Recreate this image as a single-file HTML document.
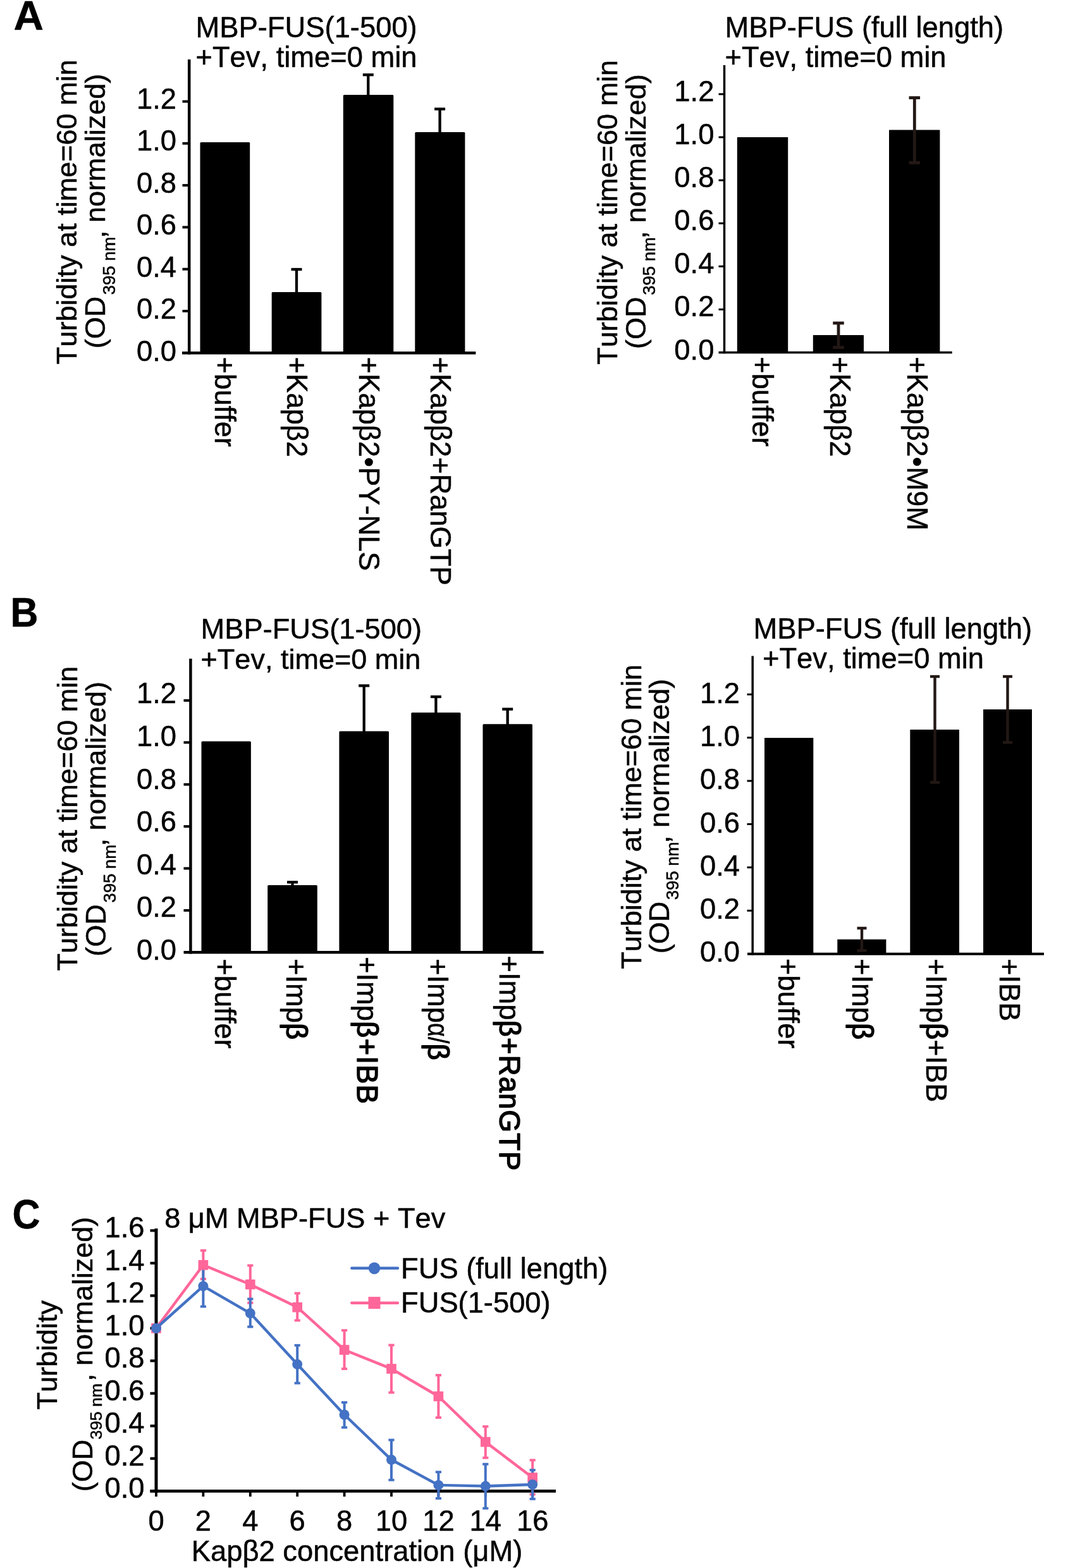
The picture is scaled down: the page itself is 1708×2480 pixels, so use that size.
<!DOCTYPE html>
<html lang="en">
<head>
<meta charset="utf-8">
<title>Figure</title>
<style>
html,body{margin:0;padding:0;background:#fff;}
body{width:1708px;height:2480px;}
svg{display:block;}
text{font-family:"Liberation Sans", "DejaVu Sans", sans-serif;fill:#000;font-kerning:none;font-variant-ligatures:none;stroke:#000;stroke-width:0.5px;stroke-linejoin:round;}
</style>
</head>
<body>
<svg width="1708" height="2480" viewBox="0 0 1708 2480">
<rect x="0" y="0" width="1708" height="2480" fill="#fff"/>
<text x="21.5" y="46.5" font-size="64" font-weight="bold" textLength="47.5" lengthAdjust="spacingAndGlyphs">A</text>
<text x="16.5" y="991" font-size="64" font-weight="bold" textLength="44" lengthAdjust="spacingAndGlyphs">B</text>
<text x="309.5" y="59.3" font-size="45.35">MBP-FUS(1-500)</text>
<text x="309.5" y="105.6" font-size="45.3">+Tev, time=0 min</text>
<text transform="translate(121.2 335.2) rotate(-90)" font-size="45.05" text-anchor="middle">Turbidity at time=60 min</text>
<text transform="translate(166.2 334) rotate(-90)" font-size="45.05" text-anchor="middle">(OD<tspan font-size="27.5" dx="2.5" dy="15.3">395 nm</tspan><tspan dx="-2.5" dy="-15.3">, normalized)</tspan></text>
<rect x="316.5" y="225" width="78.7" height="333.3" fill="#000" rx="1.5"/>
<rect x="429.7" y="462" width="78.7" height="96.3" fill="#000" rx="1.5"/>
<rect x="542.8" y="150" width="79.5" height="408.3" fill="#000" rx="1.5"/>
<rect x="656.3" y="209" width="79.1" height="349.3" fill="#000" rx="1.5"/>
<line x1="299.2" y1="94" x2="299.2" y2="560.5" stroke="#000" stroke-width="4.5" stroke-linecap="butt"/>
<line x1="288" y1="558.3" x2="752.4" y2="558.3" stroke="#000" stroke-width="4.4" stroke-linecap="butt"/>
<text x="279" y="570.8" font-size="45.35" text-anchor="end">0.0</text>
<line x1="288.5" y1="492.0" x2="299.2" y2="492.0" stroke="#000" stroke-width="4" stroke-linecap="butt"/>
<text x="279" y="504.3" font-size="45.35" text-anchor="end">0.2</text>
<line x1="288.5" y1="425.7" x2="299.2" y2="425.7" stroke="#000" stroke-width="4" stroke-linecap="butt"/>
<text x="279" y="437.8" font-size="45.35" text-anchor="end">0.4</text>
<line x1="288.5" y1="359.4" x2="299.2" y2="359.4" stroke="#000" stroke-width="4" stroke-linecap="butt"/>
<text x="279" y="371.3" font-size="45.35" text-anchor="end">0.6</text>
<line x1="288.5" y1="293.1" x2="299.2" y2="293.1" stroke="#000" stroke-width="4" stroke-linecap="butt"/>
<text x="279" y="304.8" font-size="45.35" text-anchor="end">0.8</text>
<line x1="288.5" y1="226.8" x2="299.2" y2="226.8" stroke="#000" stroke-width="4" stroke-linecap="butt"/>
<text x="279" y="238.3" font-size="45.35" text-anchor="end">1.0</text>
<line x1="288.5" y1="160.5" x2="299.2" y2="160.5" stroke="#000" stroke-width="4" stroke-linecap="butt"/>
<text x="279" y="171.8" font-size="45.35" text-anchor="end">1.2</text>
<line x1="469" y1="426" x2="469" y2="463" stroke="#000" stroke-width="4.3" stroke-linecap="butt"/>
<line x1="460.5" y1="426" x2="477.5" y2="426" stroke="#000" stroke-width="4.3" stroke-linecap="butt"/>
<line x1="582.3" y1="118.3" x2="582.3" y2="150" stroke="#000" stroke-width="4.3" stroke-linecap="butt"/>
<line x1="573.8" y1="118.3" x2="590.8" y2="118.3" stroke="#000" stroke-width="4.3" stroke-linecap="butt"/>
<line x1="695.6" y1="172.4" x2="695.6" y2="209" stroke="#000" stroke-width="4.3" stroke-linecap="butt"/>
<line x1="687.1" y1="172.4" x2="704.1" y2="172.4" stroke="#000" stroke-width="4.3" stroke-linecap="butt"/>
<text transform="translate(339.5 564.5) rotate(90)" font-size="45.35">+buffer</text>
<text transform="translate(453.9 564.5) rotate(90)" font-size="45.35">+Kapβ2</text>
<text transform="translate(567.6 564.5) rotate(90)" font-size="45.35">+Kapβ2•PY-NLS</text>
<text transform="translate(681 564.5) rotate(90)" font-size="45.35">+Kapβ2+RanGTP</text>
<text x="1146.5" y="59.3" font-size="45.3">MBP-FUS (full length)</text>
<text x="1146.5" y="105.6" font-size="45.3">+Tev, time=0 min</text>
<text transform="translate(976.4 335.8) rotate(-90)" font-size="45.05" text-anchor="middle">Turbidity at time=60 min</text>
<text transform="translate(1020.8 334.6) rotate(-90)" font-size="45.05" text-anchor="middle">(OD<tspan font-size="27.5" dx="2.5" dy="15.3">395 nm</tspan><tspan dx="-2.5" dy="-15.3">, normalized)</tspan></text>
<rect x="1165.8" y="217" width="80.4" height="340.5" fill="#000" rx="0.5"/>
<rect x="1285.8" y="530" width="80.2" height="27.5" fill="#000" rx="0.5"/>
<rect x="1406" y="205.5" width="80.4" height="352.0" fill="#000" rx="0.5"/>
<line x1="1145.5" y1="103" x2="1145.5" y2="559.25" stroke="#000" stroke-width="3.5" stroke-linecap="butt"/>
<line x1="1136.5" y1="557.5" x2="1505.7" y2="557.5" stroke="#000" stroke-width="3.5" stroke-linecap="butt"/>
<text x="1129.4" y="568.5" font-size="45.35" text-anchor="end">0.0</text>
<line x1="1136.5" y1="489.4" x2="1145.5" y2="489.4" stroke="#000" stroke-width="3" stroke-linecap="butt"/>
<text x="1129.4" y="500.4" font-size="45.35" text-anchor="end">0.2</text>
<line x1="1136.5" y1="421.3" x2="1145.5" y2="421.3" stroke="#000" stroke-width="3" stroke-linecap="butt"/>
<text x="1129.4" y="432.3" font-size="45.35" text-anchor="end">0.4</text>
<line x1="1136.5" y1="353.2" x2="1145.5" y2="353.2" stroke="#000" stroke-width="3" stroke-linecap="butt"/>
<text x="1129.4" y="364.2" font-size="45.35" text-anchor="end">0.6</text>
<line x1="1136.5" y1="285.1" x2="1145.5" y2="285.1" stroke="#000" stroke-width="3" stroke-linecap="butt"/>
<text x="1129.4" y="296.1" font-size="45.35" text-anchor="end">0.8</text>
<line x1="1136.5" y1="217.0" x2="1145.5" y2="217.0" stroke="#000" stroke-width="3" stroke-linecap="butt"/>
<text x="1129.4" y="228.0" font-size="45.35" text-anchor="end">1.0</text>
<line x1="1136.5" y1="148.9" x2="1145.5" y2="148.9" stroke="#000" stroke-width="3" stroke-linecap="butt"/>
<text x="1129.4" y="159.9" font-size="45.35" text-anchor="end">1.2</text>
<line x1="1326" y1="511" x2="1326" y2="549.5" stroke="#231815" stroke-width="4.8" stroke-linecap="butt"/>
<line x1="1317.25" y1="511" x2="1334.75" y2="511" stroke="#231815" stroke-width="4.8" stroke-linecap="butt"/>
<line x1="1317.25" y1="549.5" x2="1334.75" y2="549.5" stroke="#231815" stroke-width="4.8" stroke-linecap="butt"/>
<line x1="1446.3" y1="154.6" x2="1446.3" y2="257.4" stroke="#231815" stroke-width="4.8" stroke-linecap="butt"/>
<line x1="1437.55" y1="154.6" x2="1455.05" y2="154.6" stroke="#231815" stroke-width="4.8" stroke-linecap="butt"/>
<line x1="1437.55" y1="257.4" x2="1455.05" y2="257.4" stroke="#231815" stroke-width="4.8" stroke-linecap="butt"/>
<text transform="translate(1189.5 564) rotate(90)" font-size="45.35">+buffer</text>
<text transform="translate(1313.2 564) rotate(90)" font-size="45.35">+Kapβ2</text>
<text transform="translate(1434.7 564) rotate(90)" font-size="45.35">+Kapβ2•M9M</text>
<text x="317.6" y="1009.8" font-size="45.25">MBP-FUS(1-500)</text>
<text x="317.6" y="1057.6" font-size="45.0">+Tev, time=0 min</text>
<text transform="translate(121.8 1294.6) rotate(-90)" font-size="45.05" text-anchor="middle">Turbidity at time=60 min</text>
<text transform="translate(167.2 1295.4) rotate(-90)" font-size="45.05" text-anchor="middle">(OD<tspan font-size="27.5" dx="2.5" dy="15.3">395 nm</tspan><tspan dx="-2.5" dy="-15.3">, normalized)</tspan></text>
<rect x="318.5" y="1172.6" width="78.4" height="333.7" fill="#000" rx="1.5"/>
<rect x="423.2" y="1399.9" width="78.6" height="106.4" fill="#000" rx="1.5"/>
<rect x="536.4" y="1156.4" width="78.6" height="349.9" fill="#000" rx="1.5"/>
<rect x="650.3" y="1127.1" width="78.2" height="379.2" fill="#000" rx="1.5"/>
<rect x="763.5" y="1145.3" width="78.5" height="361.0" fill="#000" rx="1.5"/>
<line x1="301.4" y1="1041.7" x2="301.4" y2="1508.5" stroke="#000" stroke-width="4.5" stroke-linecap="butt"/>
<line x1="290.5" y1="1506.3" x2="859.7" y2="1506.3" stroke="#000" stroke-width="4.4" stroke-linecap="butt"/>
<text x="279" y="1518.0" font-size="45.35" text-anchor="end">0.0</text>
<line x1="290.5" y1="1439.9" x2="301.4" y2="1439.9" stroke="#000" stroke-width="4" stroke-linecap="butt"/>
<text x="279" y="1450.4" font-size="45.35" text-anchor="end">0.2</text>
<line x1="290.5" y1="1373.5" x2="301.4" y2="1373.5" stroke="#000" stroke-width="4" stroke-linecap="butt"/>
<text x="279" y="1382.8" font-size="45.35" text-anchor="end">0.4</text>
<line x1="290.5" y1="1307.1" x2="301.4" y2="1307.1" stroke="#000" stroke-width="4" stroke-linecap="butt"/>
<text x="279" y="1315.2" font-size="45.35" text-anchor="end">0.6</text>
<line x1="290.5" y1="1240.7" x2="301.4" y2="1240.7" stroke="#000" stroke-width="4" stroke-linecap="butt"/>
<text x="279" y="1247.6" font-size="45.35" text-anchor="end">0.8</text>
<line x1="290.5" y1="1174.3" x2="301.4" y2="1174.3" stroke="#000" stroke-width="4" stroke-linecap="butt"/>
<text x="279" y="1180.0" font-size="45.35" text-anchor="end">1.0</text>
<line x1="290.5" y1="1107.9" x2="301.4" y2="1107.9" stroke="#000" stroke-width="4" stroke-linecap="butt"/>
<text x="279" y="1112.4" font-size="45.35" text-anchor="end">1.2</text>
<line x1="462.5" y1="1395.3" x2="462.5" y2="1400.7" stroke="#000" stroke-width="4.3" stroke-linecap="butt"/>
<line x1="454.0" y1="1395.3" x2="471.0" y2="1395.3" stroke="#000" stroke-width="4.3" stroke-linecap="butt"/>
<line x1="575.7" y1="1084.5" x2="575.7" y2="1157.2" stroke="#000" stroke-width="4.3" stroke-linecap="butt"/>
<line x1="567.2" y1="1084.5" x2="584.2" y2="1084.5" stroke="#000" stroke-width="4.3" stroke-linecap="butt"/>
<line x1="689.4" y1="1102" x2="689.4" y2="1127.8" stroke="#000" stroke-width="4.3" stroke-linecap="butt"/>
<line x1="680.9" y1="1102" x2="697.9" y2="1102" stroke="#000" stroke-width="4.3" stroke-linecap="butt"/>
<line x1="802.7" y1="1121.6" x2="802.7" y2="1146" stroke="#000" stroke-width="4.3" stroke-linecap="butt"/>
<line x1="794.2" y1="1121.6" x2="811.2" y2="1121.6" stroke="#000" stroke-width="4.3" stroke-linecap="butt"/>
<text transform="translate(340 1516.2) rotate(90)" font-size="45.35">+buffer</text>
<text transform="translate(453.3 1516) rotate(90)" font-size="45.35">+Imp<tspan stroke-width="1.5" letter-spacing="1.25">β</tspan></text>
<text transform="translate(564.6 1513) rotate(90)" font-size="45.35">+Imp<tspan stroke-width="1.5" letter-spacing="1.25">β+IBB</tspan></text>
<text transform="translate(676.6 1516) rotate(90)" font-size="45.35">+Imp<tspan textLength="32.3" lengthAdjust="spacingAndGlyphs">α/</tspan><tspan stroke-width="1.5" letter-spacing="1.25">β</tspan></text>
<text transform="translate(789.5 1511.5) rotate(90)" font-size="45.35">+Imp<tspan stroke-width="1.5" letter-spacing="1.25">β+RanGTP</tspan></text>
<text x="1191.5" y="1009.7" font-size="45.3">MBP-FUS (full length)</text>
<text x="1206" y="1057.2" font-size="45.3">+Tev, time=0 min</text>
<text transform="translate(1013.6 1291.9) rotate(-90)" font-size="45.05" text-anchor="middle">Turbidity at time=60 min</text>
<text transform="translate(1058 1291) rotate(-90)" font-size="45.05" text-anchor="middle">(OD<tspan font-size="27.5" dx="2.5" dy="15.3">395 nm</tspan><tspan dx="-2.5" dy="-15.3">, normalized)</tspan></text>
<rect x="1209" y="1166.9" width="77.3" height="341.8" fill="#000" rx="0.5"/>
<rect x="1324.3" y="1485.7" width="77.1" height="23.0" fill="#000" rx="0.5"/>
<rect x="1439.3" y="1154" width="77.7" height="354.7" fill="#000" rx="0.5"/>
<rect x="1555" y="1121.9" width="77" height="386.8" fill="#000" rx="0.5"/>
<line x1="1190.2" y1="1037.4" x2="1190.2" y2="1510.7" stroke="#000" stroke-width="3.5" stroke-linecap="butt"/>
<line x1="1182" y1="1508.7" x2="1651" y2="1508.7" stroke="#000" stroke-width="4" stroke-linecap="butt"/>
<text x="1170" y="1521.2" font-size="45.35" text-anchor="end">0.0</text>
<line x1="1181.5" y1="1440.3" x2="1190.2" y2="1440.3" stroke="#000" stroke-width="3" stroke-linecap="butt"/>
<text x="1170" y="1453.0" font-size="45.35" text-anchor="end">0.2</text>
<line x1="1181.5" y1="1371.9" x2="1190.2" y2="1371.9" stroke="#000" stroke-width="3" stroke-linecap="butt"/>
<text x="1170" y="1384.8" font-size="45.35" text-anchor="end">0.4</text>
<line x1="1181.5" y1="1303.5" x2="1190.2" y2="1303.5" stroke="#000" stroke-width="3" stroke-linecap="butt"/>
<text x="1170" y="1316.6" font-size="45.35" text-anchor="end">0.6</text>
<line x1="1181.5" y1="1235.1" x2="1190.2" y2="1235.1" stroke="#000" stroke-width="3" stroke-linecap="butt"/>
<text x="1170" y="1248.4" font-size="45.35" text-anchor="end">0.8</text>
<line x1="1181.5" y1="1166.7" x2="1190.2" y2="1166.7" stroke="#000" stroke-width="3" stroke-linecap="butt"/>
<text x="1170" y="1180.2" font-size="45.35" text-anchor="end">1.0</text>
<line x1="1181.5" y1="1098.3" x2="1190.2" y2="1098.3" stroke="#000" stroke-width="3" stroke-linecap="butt"/>
<text x="1170" y="1112.0" font-size="45.35" text-anchor="end">1.2</text>
<line x1="1363" y1="1468" x2="1363" y2="1503.4" stroke="#231815" stroke-width="4.4" stroke-linecap="butt"/>
<line x1="1355.5" y1="1468" x2="1370.5" y2="1468" stroke="#231815" stroke-width="4.4" stroke-linecap="butt"/>
<line x1="1355.5" y1="1503.4" x2="1370.5" y2="1503.4" stroke="#231815" stroke-width="4.4" stroke-linecap="butt"/>
<line x1="1478.5" y1="1070" x2="1478.5" y2="1237.5" stroke="#231815" stroke-width="4.4" stroke-linecap="butt"/>
<line x1="1471.0" y1="1070" x2="1486.0" y2="1070" stroke="#231815" stroke-width="4.4" stroke-linecap="butt"/>
<line x1="1471.0" y1="1237.5" x2="1486.0" y2="1237.5" stroke="#231815" stroke-width="4.4" stroke-linecap="butt"/>
<line x1="1593.5" y1="1070" x2="1593.5" y2="1174.3" stroke="#231815" stroke-width="4.4" stroke-linecap="butt"/>
<line x1="1586.0" y1="1070" x2="1601.0" y2="1070" stroke="#231815" stroke-width="4.4" stroke-linecap="butt"/>
<line x1="1586.0" y1="1174.3" x2="1601.0" y2="1174.3" stroke="#231815" stroke-width="4.4" stroke-linecap="butt"/>
<text transform="translate(1231 1515.8) rotate(90)" font-size="45.35">+buffer</text>
<text transform="translate(1348 1516) rotate(90)" font-size="45.35">+Imp<tspan stroke-width="1.5" letter-spacing="1.25">β</tspan></text>
<text transform="translate(1464.5 1516) rotate(90)" font-size="45.3">+Imp<tspan stroke-width="1.5">β</tspan>+IBB</text>
<text transform="translate(1580.5 1516) rotate(90)" font-size="45.3">+IBB</text>
<text x="19.5" y="1942.7" font-size="64" font-weight="bold" textLength="44" lengthAdjust="spacingAndGlyphs">C</text>
<text x="260.2" y="1942.2" font-size="45.2">8 μM MBP-FUS + Tev</text>
<line x1="247.0" y1="1943.1" x2="247.0" y2="2360.7000000000003" stroke="#000" stroke-width="5" stroke-linecap="butt"/>
<line x1="237.5" y1="2358.3" x2="879" y2="2358.3" stroke="#000" stroke-width="4.8" stroke-linecap="butt"/>
<line x1="237.5" y1="2358.3" x2="247.0" y2="2358.3" stroke="#000" stroke-width="4.2" stroke-linecap="butt"/>
<text x="228.6" y="2369.2" font-size="45.35" text-anchor="end">0.0</text>
<line x1="237.5" y1="2306.8" x2="247.0" y2="2306.8" stroke="#000" stroke-width="4.2" stroke-linecap="butt"/>
<text x="228.6" y="2317.7" font-size="45.35" text-anchor="end">0.2</text>
<line x1="237.5" y1="2255.3" x2="247.0" y2="2255.3" stroke="#000" stroke-width="4.2" stroke-linecap="butt"/>
<text x="228.6" y="2266.2" font-size="45.35" text-anchor="end">0.4</text>
<line x1="237.5" y1="2203.8" x2="247.0" y2="2203.8" stroke="#000" stroke-width="4.2" stroke-linecap="butt"/>
<text x="228.6" y="2214.7" font-size="45.35" text-anchor="end">0.6</text>
<line x1="237.5" y1="2152.3" x2="247.0" y2="2152.3" stroke="#000" stroke-width="4.2" stroke-linecap="butt"/>
<text x="228.6" y="2163.2" font-size="45.35" text-anchor="end">0.8</text>
<line x1="237.5" y1="2100.8" x2="247.0" y2="2100.8" stroke="#000" stroke-width="4.2" stroke-linecap="butt"/>
<text x="228.6" y="2111.7" font-size="45.35" text-anchor="end">1.0</text>
<line x1="237.5" y1="2049.3" x2="247.0" y2="2049.3" stroke="#000" stroke-width="4.2" stroke-linecap="butt"/>
<text x="228.6" y="2060.2" font-size="45.35" text-anchor="end">1.2</text>
<line x1="237.5" y1="1997.8" x2="247.0" y2="1997.8" stroke="#000" stroke-width="4.2" stroke-linecap="butt"/>
<text x="228.6" y="2008.7" font-size="45.35" text-anchor="end">1.4</text>
<line x1="237.5" y1="1946.3" x2="247.0" y2="1946.3" stroke="#000" stroke-width="4.2" stroke-linecap="butt"/>
<text x="228.6" y="1957.2" font-size="45.35" text-anchor="end">1.6</text>
<line x1="247.0" y1="2358.3" x2="247.0" y2="2367.1000000000004" stroke="#000" stroke-width="3.8" stroke-linecap="butt"/>
<text x="247.0" y="2421.2" font-size="45.35" text-anchor="middle">0</text>
<line x1="321.4" y1="2358.3" x2="321.4" y2="2367.1000000000004" stroke="#000" stroke-width="3.8" stroke-linecap="butt"/>
<text x="321.4" y="2421.2" font-size="45.35" text-anchor="middle">2</text>
<line x1="395.8" y1="2358.3" x2="395.8" y2="2367.1000000000004" stroke="#000" stroke-width="3.8" stroke-linecap="butt"/>
<text x="395.8" y="2421.2" font-size="45.35" text-anchor="middle">4</text>
<line x1="470.2" y1="2358.3" x2="470.2" y2="2367.1000000000004" stroke="#000" stroke-width="3.8" stroke-linecap="butt"/>
<text x="470.2" y="2421.2" font-size="45.35" text-anchor="middle">6</text>
<line x1="544.6" y1="2358.3" x2="544.6" y2="2367.1000000000004" stroke="#000" stroke-width="3.8" stroke-linecap="butt"/>
<text x="544.6" y="2421.2" font-size="45.35" text-anchor="middle">8</text>
<line x1="619.0" y1="2358.3" x2="619.0" y2="2367.1000000000004" stroke="#000" stroke-width="3.8" stroke-linecap="butt"/>
<text x="619.0" y="2421.2" font-size="45.35" text-anchor="middle">10</text>
<line x1="693.4" y1="2358.3" x2="693.4" y2="2367.1000000000004" stroke="#000" stroke-width="3.8" stroke-linecap="butt"/>
<text x="693.4" y="2421.2" font-size="45.35" text-anchor="middle">12</text>
<line x1="767.8" y1="2358.3" x2="767.8" y2="2367.1000000000004" stroke="#000" stroke-width="3.8" stroke-linecap="butt"/>
<text x="767.8" y="2421.2" font-size="45.35" text-anchor="middle">14</text>
<line x1="842.2" y1="2358.3" x2="842.2" y2="2367.1000000000004" stroke="#000" stroke-width="3.8" stroke-linecap="butt"/>
<text x="842.2" y="2421.2" font-size="45.35" text-anchor="middle">16</text>
<text x="564.5" y="2468.8" font-size="45.35" text-anchor="middle">Kapβ2 concentration (μM)</text>
<text transform="translate(89.9 2143.2) rotate(-90)" font-size="45.05" text-anchor="middle">Turbidity</text>
<text transform="translate(145.8 2142.0) rotate(-90)" font-size="45.05" text-anchor="middle">(OD<tspan font-size="26.6" dx="0" dy="15.3">395 nm</tspan><tspan dx="3" dy="-15.3">, normalized)</tspan></text>
<line x1="321.4" y1="1977.8" x2="321.4" y2="2022.9" stroke="#FF6699" stroke-width="4" stroke-linecap="butt"/>
<line x1="316.79999999999995" y1="1977.8" x2="326.0" y2="1977.8" stroke="#FF6699" stroke-width="3.9" stroke-linecap="butt"/>
<line x1="316.79999999999995" y1="2022.9" x2="326.0" y2="2022.9" stroke="#FF6699" stroke-width="3.9" stroke-linecap="butt"/>
<line x1="395.8" y1="2001.5" x2="395.8" y2="2060.6" stroke="#FF6699" stroke-width="4" stroke-linecap="butt"/>
<line x1="391.2" y1="2001.5" x2="400.40000000000003" y2="2001.5" stroke="#FF6699" stroke-width="3.9" stroke-linecap="butt"/>
<line x1="391.2" y1="2060.6" x2="400.40000000000003" y2="2060.6" stroke="#FF6699" stroke-width="3.9" stroke-linecap="butt"/>
<line x1="470.2" y1="2045.5" x2="470.2" y2="2088.4" stroke="#FF6699" stroke-width="4" stroke-linecap="butt"/>
<line x1="465.59999999999997" y1="2045.5" x2="474.8" y2="2045.5" stroke="#FF6699" stroke-width="3.9" stroke-linecap="butt"/>
<line x1="465.59999999999997" y1="2088.4" x2="474.8" y2="2088.4" stroke="#FF6699" stroke-width="3.9" stroke-linecap="butt"/>
<line x1="544.6" y1="2104.1" x2="544.6" y2="2165.0" stroke="#FF6699" stroke-width="4" stroke-linecap="butt"/>
<line x1="540.0" y1="2104.1" x2="549.2" y2="2104.1" stroke="#FF6699" stroke-width="3.9" stroke-linecap="butt"/>
<line x1="540.0" y1="2165.0" x2="549.2" y2="2165.0" stroke="#FF6699" stroke-width="3.9" stroke-linecap="butt"/>
<line x1="619.0" y1="2127.5" x2="619.0" y2="2202.5" stroke="#FF6699" stroke-width="4" stroke-linecap="butt"/>
<line x1="614.4" y1="2127.5" x2="623.6" y2="2127.5" stroke="#FF6699" stroke-width="3.9" stroke-linecap="butt"/>
<line x1="614.4" y1="2202.5" x2="623.6" y2="2202.5" stroke="#FF6699" stroke-width="3.9" stroke-linecap="butt"/>
<line x1="693.4" y1="2175.0" x2="693.4" y2="2242.1" stroke="#FF6699" stroke-width="4" stroke-linecap="butt"/>
<line x1="688.8" y1="2175.0" x2="698.0" y2="2175.0" stroke="#FF6699" stroke-width="3.9" stroke-linecap="butt"/>
<line x1="688.8" y1="2242.1" x2="698.0" y2="2242.1" stroke="#FF6699" stroke-width="3.9" stroke-linecap="butt"/>
<line x1="767.8" y1="2256.2" x2="767.8" y2="2305.7" stroke="#FF6699" stroke-width="4" stroke-linecap="butt"/>
<line x1="763.1999999999999" y1="2256.2" x2="772.4" y2="2256.2" stroke="#FF6699" stroke-width="3.9" stroke-linecap="butt"/>
<line x1="763.1999999999999" y1="2305.7" x2="772.4" y2="2305.7" stroke="#FF6699" stroke-width="3.9" stroke-linecap="butt"/>
<line x1="842.2" y1="2309.4" x2="842.2" y2="2363.6" stroke="#FF6699" stroke-width="4" stroke-linecap="butt"/>
<line x1="837.6" y1="2309.4" x2="846.8000000000001" y2="2309.4" stroke="#FF6699" stroke-width="3.9" stroke-linecap="butt"/>
<line x1="837.6" y1="2363.6" x2="846.8000000000001" y2="2363.6" stroke="#FF6699" stroke-width="3.9" stroke-linecap="butt"/>
<line x1="321.4" y1="2001.9" x2="321.4" y2="2066.5" stroke="#4472C4" stroke-width="4" stroke-linecap="butt"/>
<line x1="316.79999999999995" y1="2001.9" x2="326.0" y2="2001.9" stroke="#4472C4" stroke-width="3.9" stroke-linecap="butt"/>
<line x1="316.79999999999995" y1="2066.5" x2="326.0" y2="2066.5" stroke="#4472C4" stroke-width="3.9" stroke-linecap="butt"/>
<line x1="395.8" y1="2054.5" x2="395.8" y2="2098.5" stroke="#4472C4" stroke-width="4" stroke-linecap="butt"/>
<line x1="391.2" y1="2054.5" x2="400.40000000000003" y2="2054.5" stroke="#4472C4" stroke-width="3.9" stroke-linecap="butt"/>
<line x1="391.2" y1="2098.5" x2="400.40000000000003" y2="2098.5" stroke="#4472C4" stroke-width="3.9" stroke-linecap="butt"/>
<line x1="470.2" y1="2127.8" x2="470.2" y2="2187.6" stroke="#4472C4" stroke-width="4" stroke-linecap="butt"/>
<line x1="465.59999999999997" y1="2127.8" x2="474.8" y2="2127.8" stroke="#4472C4" stroke-width="3.9" stroke-linecap="butt"/>
<line x1="465.59999999999997" y1="2187.6" x2="474.8" y2="2187.6" stroke="#4472C4" stroke-width="3.9" stroke-linecap="butt"/>
<line x1="544.6" y1="2218.1" x2="544.6" y2="2257.7" stroke="#4472C4" stroke-width="4" stroke-linecap="butt"/>
<line x1="540.0" y1="2218.1" x2="549.2" y2="2218.1" stroke="#4472C4" stroke-width="3.9" stroke-linecap="butt"/>
<line x1="540.0" y1="2257.7" x2="549.2" y2="2257.7" stroke="#4472C4" stroke-width="3.9" stroke-linecap="butt"/>
<line x1="619.0" y1="2277.5" x2="619.0" y2="2340.8" stroke="#4472C4" stroke-width="4" stroke-linecap="butt"/>
<line x1="614.4" y1="2277.5" x2="623.6" y2="2277.5" stroke="#4472C4" stroke-width="3.9" stroke-linecap="butt"/>
<line x1="614.4" y1="2340.8" x2="623.6" y2="2340.8" stroke="#4472C4" stroke-width="3.9" stroke-linecap="butt"/>
<line x1="693.4" y1="2328.2" x2="693.4" y2="2369.9" stroke="#4472C4" stroke-width="4" stroke-linecap="butt"/>
<line x1="688.8" y1="2328.2" x2="698.0" y2="2328.2" stroke="#4472C4" stroke-width="3.9" stroke-linecap="butt"/>
<line x1="688.8" y1="2369.9" x2="698.0" y2="2369.9" stroke="#4472C4" stroke-width="3.9" stroke-linecap="butt"/>
<line x1="767.8" y1="2315.7" x2="767.8" y2="2385.6" stroke="#4472C4" stroke-width="4" stroke-linecap="butt"/>
<line x1="763.1999999999999" y1="2315.7" x2="772.4" y2="2315.7" stroke="#4472C4" stroke-width="3.9" stroke-linecap="butt"/>
<line x1="763.1999999999999" y1="2385.6" x2="772.4" y2="2385.6" stroke="#4472C4" stroke-width="3.9" stroke-linecap="butt"/>
<line x1="842.2" y1="2325.1" x2="842.2" y2="2370.8" stroke="#4472C4" stroke-width="4" stroke-linecap="butt"/>
<line x1="837.6" y1="2325.1" x2="846.8000000000001" y2="2325.1" stroke="#4472C4" stroke-width="3.9" stroke-linecap="butt"/>
<line x1="837.6" y1="2370.8" x2="846.8000000000001" y2="2370.8" stroke="#4472C4" stroke-width="3.9" stroke-linecap="butt"/>
<polyline points="247.0,2100.8 321.4,2000.8 395.8,2031.5 470.2,2067.6 544.6,2135.0 619.0,2164.9 693.4,2208.5 767.8,2280.6 842.2,2337.0" fill="none" stroke="#FF6699" stroke-width="4.4" stroke-linejoin="round"/>
<rect x="239.2" y="2093.0" width="15.6" height="15.6" fill="#FF6699"/>
<rect x="313.6" y="1993.0" width="15.6" height="15.6" fill="#FF6699"/>
<rect x="388.0" y="2023.7" width="15.6" height="15.6" fill="#FF6699"/>
<rect x="462.4" y="2059.8" width="15.6" height="15.6" fill="#FF6699"/>
<rect x="536.8" y="2127.2" width="15.6" height="15.6" fill="#FF6699"/>
<rect x="611.2" y="2157.1" width="15.6" height="15.6" fill="#FF6699"/>
<rect x="685.6" y="2200.7" width="15.6" height="15.6" fill="#FF6699"/>
<rect x="760.0" y="2272.8" width="15.6" height="15.6" fill="#FF6699"/>
<rect x="834.4" y="2329.2" width="15.6" height="15.6" fill="#FF6699"/>
<polyline points="247.0,2100.8 321.4,2034.2 395.8,2077.1 470.2,2157.8 544.6,2237.5 619.0,2308.8 693.4,2348.9 767.8,2350.5 842.2,2348.0" fill="none" stroke="#4472C4" stroke-width="4.4" stroke-linejoin="round"/>
<circle cx="247.0" cy="2100.8" r="8" fill="#4472C4"/>
<circle cx="321.4" cy="2034.2" r="8" fill="#4472C4"/>
<circle cx="395.8" cy="2077.1" r="8" fill="#4472C4"/>
<circle cx="470.2" cy="2157.8" r="8" fill="#4472C4"/>
<circle cx="544.6" cy="2237.5" r="8" fill="#4472C4"/>
<circle cx="619.0" cy="2308.8" r="8" fill="#4472C4"/>
<circle cx="693.4" cy="2348.9" r="8" fill="#4472C4"/>
<circle cx="767.8" cy="2350.5" r="8" fill="#4472C4"/>
<circle cx="842.2" cy="2348.0" r="8" fill="#4472C4"/>
<line x1="556.3" y1="2005.8" x2="629" y2="2005.8" stroke="#4472C4" stroke-width="4.4" stroke-linecap="round"/>
<circle cx="592" cy="2005.8" r="9.4" fill="#4472C4"/>
<text x="634" y="2022.2" font-size="45.3">FUS (full length)</text>
<line x1="556.3" y1="2060.7" x2="629" y2="2060.7" stroke="#FF6699" stroke-width="4.4" stroke-linecap="round"/>
<rect x="582.5" y="2051.1" width="19" height="19" fill="#FF6699"/>
<text x="634" y="2075.8" font-size="45.3">FUS(1-500)</text>
</svg>
</body>
</html>
